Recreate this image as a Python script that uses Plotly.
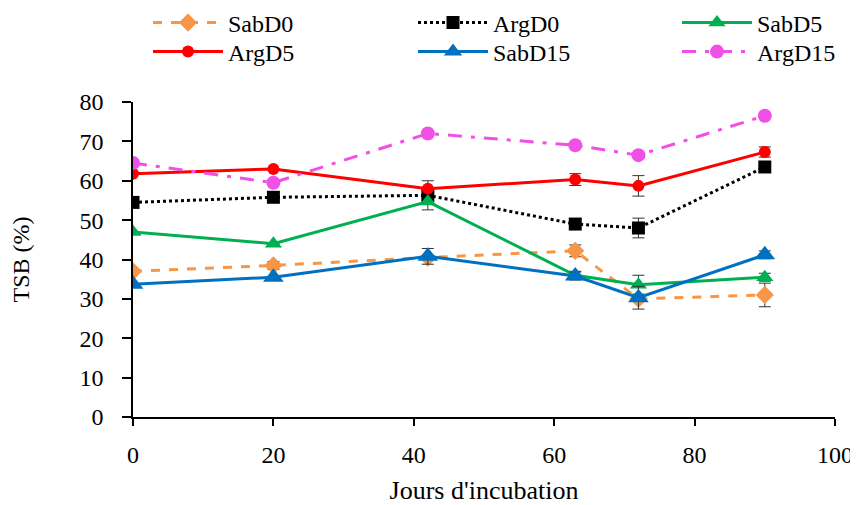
import plotly.graph_objects as go

days = [0, 20, 42, 63, 72, 90]

series_names = ["SabD0", "ArgD0", "SabD5", "ArgD5", "SabD15", "ArgD15"]
sabd0 = [37.0, 38.5, 40.5, 42.2, 30.0, 31.0]
argd0 = [54.5, 55.8, 56.3, 49.0, 48.0, 63.5]
sabd5 = [47.0, 44.0, 54.7, 36.0, 33.6, 35.5]
argd5 = [61.8, 63.0, 58.0, 60.3, 58.7, 67.3]
sabd15 = [33.7, 35.5, 40.8, 35.8, 30.3, 41.2]
argd15 = [64.5, 59.5, 72.0, 69.0, 66.5, 76.5]

err_sabd0 = [0.0, 1.0, 0.0, 1.5, 0.0, 3.0]
err_argd0 = [0.0, 0.0, 3.7, 0.0, 2.5, 0.0]
err_sabd5 = [0.0, 0.0, 0.0, 1.0, 2.4, 1.0]
err_argd5 = [0.0, 0.0, 0.0, 1.5, 2.6, 1.3]
err_sabd15 = [0.0, 0.0, 2.0, 1.0, 2.9, 1.0]
err_argd15 = [0.0, 0.0, 0.0, 0.0, 0.0, 0.0]

x_ticks = [0, 20, 40, 60, 80, 100]
y_ticks = [0, 10, 20, 30, 40, 50, 60, 70, 80]

styles = [
    dict(color="#F79646", dash="dash", symbol="diamond", size=14, width=3),
    dict(color="#000000", dash="dot", symbol="square", size=13, width=3),
    dict(color="#00B050", dash="solid", symbol="triangle-up", size=15, width=3),
    dict(color="#FF0000", dash="solid", symbol="circle", size=12, width=3),
    dict(color="#0070C0", dash="solid", symbol="triangle-up", size=18, width=3),
    dict(color="#F050E6", dash="14px,9px,4px,9px", symbol="circle", size=14, width=3),
]

values = [sabd0, argd0, sabd5, argd5, sabd15, argd15]
errors = [err_sabd0, err_argd0, err_sabd5, err_argd5, err_sabd15, err_argd15]
legend_ids = ["legend", "legend2", "legend3", "legend4", "legend5", "legend6"]

fig = go.Figure()
for name, vals, errs, st, lg in zip(series_names, values, errors, styles, legend_ids):
    fig.add_trace(go.Scatter(
        x=days, y=vals, name=name, mode="lines+markers",
        line=dict(color=st["color"], dash=st["dash"], width=st["width"]),
        marker=dict(symbol=st["symbol"], size=st["size"], color=st["color"]),
        error_y=dict(type="data", array=errs, visible=True, color="#333333",
                     thickness=1, width=6),
        legend=lg, showlegend=True,
    ))

font = "Liberation Serif, Times New Roman, serif"
W, H = 850, 497  # page body adds an 8px margin
legend_common = dict(orientation="h", xref="container", yref="container",
                     xanchor="left", yanchor="middle",
                     font=dict(family=font, size=24, color="black"),
                     bgcolor="rgba(0,0,0,0)", itemwidth=70)
col_x = [140, 405, 669]
row_y = [15, 44]
legend_layout = {}
for k, lg in enumerate(legend_ids):
    legend_layout[lg] = dict(x=col_x[k % 3] / W, y=1 - row_y[k // 3] / H, **legend_common)

fig.update_layout(
    width=W, height=H, showlegend=True,
    margin=dict(l=125, r=23, t=94, b=88, autoexpand=False),
    paper_bgcolor="white", plot_bgcolor="white",
    font=dict(family=font, size=24, color="black"),
    xaxis=dict(range=[0, 100], tickvals=x_ticks, showgrid=False, zeroline=False,
               showline=True, linecolor="black", linewidth=1.5, automargin=False,
               ticks="outside", ticklen=7, tickcolor="black", tickwidth=1.5,
               ticklabelstandoff=8,
               title=dict(text="Jours d'incubation", font=dict(size=26), standoff=20),
               tickfont=dict(size=24)),
    yaxis=dict(range=[0, 80], tickvals=y_ticks, showgrid=False, zeroline=False,
               showline=True, linecolor="black", linewidth=1.5, automargin=False,
               ticks="outside", ticklen=9, tickcolor="black", tickwidth=1.5,
               ticklabelstandoff=14,
               title=dict(text="TSB (%)", font=dict(size=24), standoff=50),
               tickfont=dict(size=24)),
    **legend_layout,
)

fig.write_html("out.html")
